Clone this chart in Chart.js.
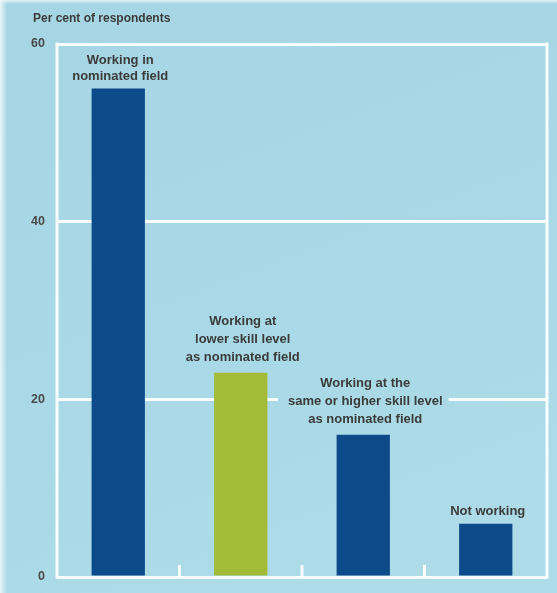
<!DOCTYPE html>
<html>
<head>
<meta charset="utf-8">
<script src="https://cdn.jsdelivr.net/npm/chart.js@4"></script>
<style>
  body { margin: 0; background: #a9d9e6; }
  #wrap { width: 557px; height: 593px; }
</style>
</head>
<body>
<div id="wrap"><canvas id="grafico"></canvas></div>
<script>
const categorias = [
  ["Working in", "nominated field"],
  ["Working at", "lower skill level", "as nominated field"],
  ["Working at the", "same or higher skill level", "as nominated field"],
  ["Not working"]
];
const percentuais = [55, 23, 16, 6];
const coresBarras = ["#0c4a8a", "#a4bb37", "#0c4a8a", "#0c4a8a"];
const ticksY = [0, 20, 40, 60];
const tituloEixo = "Per cent of respondents";

const fonteNarrow = '"Liberation Sans Narrow", "Arial Narrow", "Liberation Sans", sans-serif';
const corTexto = "#3b3b3b";
const corLinha = "rgba(255,255,255,0.93)";

function fundo(ctx, chart) {
  const g = ctx.createLinearGradient(0, 0, chart.width * 0.4, chart.height);
  g.addColorStop(0, "#a6d6e4");
  g.addColorStop(0.6, "#a9d9e6");
  g.addColorStop(1, "#addbe8");
  return g;
}

const pluginFundo = {
  id: "fundo",
  beforeDraw(chart) {
    const ctx = chart.ctx;
    ctx.save();
    ctx.fillStyle = fundo(ctx, chart);
    ctx.fillRect(0, 0, chart.width, chart.height);
    // borda clarinha da imagem original
    const esq = ctx.createLinearGradient(0, 0, 7, 0);
    esq.addColorStop(0, "rgba(240,248,250,0.9)");
    esq.addColorStop(1, "rgba(240,248,250,0)");
    ctx.fillStyle = esq;
    ctx.fillRect(0, 0, 7, chart.height);
    const topo = ctx.createLinearGradient(0, 0, 0, 4);
    topo.addColorStop(0, "rgba(240,248,250,0.8)");
    topo.addColorStop(1, "rgba(240,248,250,0)");
    ctx.fillStyle = topo;
    ctx.fillRect(0, 0, chart.width, 4);
    // titulo do eixo y
    ctx.font = "bold 12px " + fonteNarrow;
    ctx.fillStyle = corTexto;
    ctx.textBaseline = "middle";
    ctx.fillText(tituloEixo, 33, 19);
    ctx.restore();
  }
};

// moldura branca e tracinhos entre as categorias
const pluginMoldura = {
  id: "moldura",
  beforeDatasetsDraw(chart) {
    const { ctx, chartArea: a, scales: { x } } = chart;
    ctx.save();
    ctx.strokeStyle = corLinha;
    ctx.lineWidth = 3;
    ctx.beginPath();
    ctx.moveTo(a.left, a.top - 1.5);
    ctx.lineTo(a.left, a.bottom + 1.5);
    ctx.moveTo(a.right, a.top - 1.5);
    ctx.lineTo(a.right, a.bottom + 1.5);
    for (let i = 0; i < categorias.length - 1; i++) {
      const xs = (x.getPixelForValue(i) + x.getPixelForValue(i + 1)) / 2;
      ctx.moveTo(xs, a.bottom);
      ctx.lineTo(xs, a.bottom - 12);
    }
    ctx.stroke();
    ctx.restore();
  }
};

const pluginRotulos = {
  id: "rotulos",
  afterDatasetsDraw(chart) {
    const ctx = chart.ctx;
    const meta = chart.getDatasetMeta(0);
    ctx.save();
    ctx.font = "bold 13px " + fonteNarrow;
    ctx.textAlign = "center";
    ctx.textBaseline = "middle";
    meta.data.forEach((barra, i) => {
      const linhas = categorias[i];
      const alturaLinha = linhas.length > 2 ? 18 : 16;
      const base = barra.y - (linhas.length > 2 ? 15 : 12);
      const larg = Math.max(...linhas.map(l => ctx.measureText(l).width));
      const topo = base - (linhas.length - 1) * alturaLinha - 9;
      ctx.fillStyle = fundo(ctx, chart);
      ctx.fillRect(barra.x - larg / 2 - 8, topo, larg + 16, base + 9 - topo);
      ctx.fillStyle = corTexto;
      linhas.forEach((l, j) => {
        ctx.fillText(l, barra.x + 2, base - (linhas.length - 1 - j) * alturaLinha);
      });
    });
    ctx.restore();
  }
};

new Chart(document.getElementById("grafico"), {
  type: "bar",
  data: {
    labels: categorias,
    datasets: [{
      data: percentuais,
      backgroundColor: coresBarras,
      borderWidth: 0,
      barPercentage: 0.435,
      categoryPercentage: 1
    }]
  },
  options: {
    responsive: true,
    maintainAspectRatio: false,
    animation: false,
    layout: { padding: { left: 20, right: 10, bottom: 16, top: 44 } },
    plugins: {
      legend: { display: false },
      tooltip: { enabled: false },
      title: { display: false }
    },
    scales: {
      x: { display: false },
      y: {
        min: 0,
        max: 60,
        afterBuildTicks: (s) => { s.ticks = ticksY.map(v => ({ value: v })); },
        afterFit: (s) => { s.width = 37; },
        border: { display: false },
        grid: { color: corLinha, lineWidth: 3, drawTicks: true, tickLength: 8, tickColor: "transparent" },
        ticks: {
          padding: 4,
          color: "#4a4a4a",
          font: { family: fonteNarrow, size: 12.5, weight: "bold" }
        }
      }
    }
  },
  plugins: [pluginFundo, pluginMoldura, pluginRotulos]
});
</script>
</body>
</html>
